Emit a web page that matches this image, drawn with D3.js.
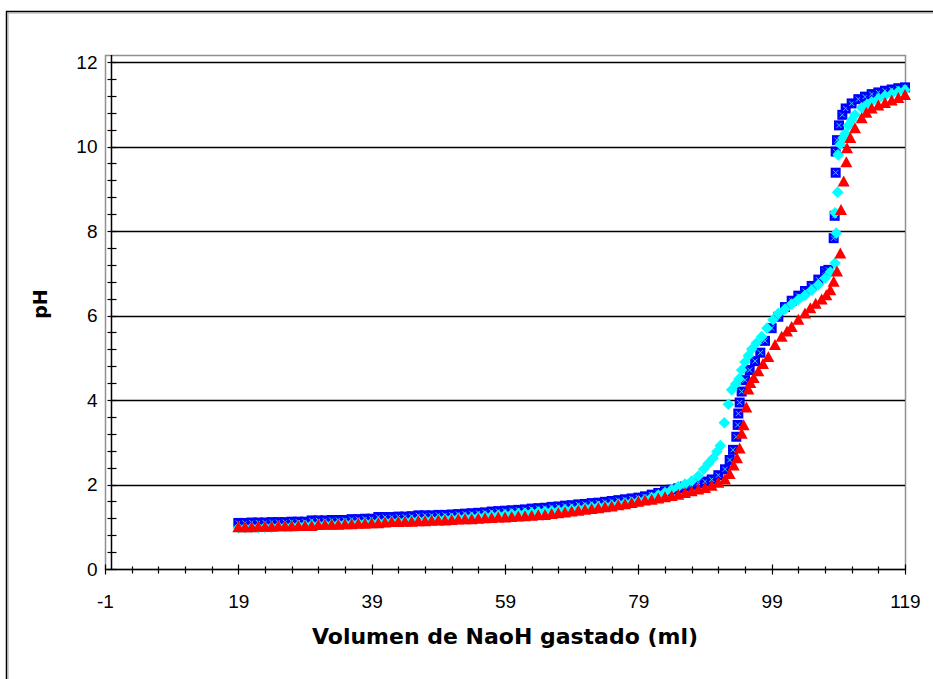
<!DOCTYPE html>
<html>
<head>
<meta charset="utf-8">
<script src="https://cdn.jsdelivr.net/npm/d3@7"></script>
<style>
  html, body { margin: 0; padding: 0; background: #fff; }
  svg { display: block; }
  .tick text { font-family: "Liberation Sans", Arial, sans-serif; font-size: 19px; fill: #000; }
  .title { font-family: "DejaVu Sans", Verdana, sans-serif; font-weight: bold; fill: #000; }
</style>
</head>
<body>
<div id="chart"></div>
<script>
// [volume (ml), pH], one list per run
const blueRun = [
  [19,1.09],[20,1.09],[21,1.10],[22,1.10],[23,1.10],[24,1.11],[25,1.11],[26,1.11],[27,1.12],[28,1.12],
  [29,1.12],[30,1.15],[31,1.15],[32,1.15],[33,1.16],[34,1.16],[35,1.16],[36,1.18],[37,1.18],[38,1.19],
  [39,1.19],[40,1.23],[41,1.23],[42,1.23],[43,1.24],[44,1.24],[45,1.25],[46,1.27],[47,1.27],[48,1.27],
  [49,1.28],[50,1.28],[51,1.29],[52,1.30],[53,1.31],[54,1.32],[55,1.33],[56,1.34],[57,1.36],[58,1.37],
  [59,1.38],[60,1.39],[61,1.40],[62,1.41],[63,1.43],[64,1.44],[65,1.45],[66,1.47],[67,1.48],[68,1.50],
  [69,1.51],[70,1.53],[71,1.54],[72,1.56],[73,1.57],[74,1.59],[75,1.61],[76,1.63],[77,1.65],[78,1.67],
  [79,1.69],[80,1.72],[81,1.76],[82,1.80],[83,1.84],[84,1.88],[85,1.91],[86,1.95],[87,1.99],[88,2.03],
  [89,2.07],[90,2.12],[91,2.22],[92,2.36],[92.7,2.58],[93.2,2.82],[93.7,3.13],[93.9,3.41],[94.0,3.68],
  [94.2,3.94],[94.5,4.20],[95.0,4.47],[95.7,4.71],[96.5,4.92],[97.3,5.12],[98,5.40],[99,5.70],[100,5.97],
  [101,6.20],[102,6.35],[103,6.47],[104,6.58],[105,6.70],[106,6.85],[107,7.05],[107.5,7.08],[108.3,7.83],
  [108.45,8.36],[108.6,9.38],[108.6,9.88],[108.8,10.15],[109.1,10.50],[109.6,10.75],[110.1,10.90],
  [111,11.02],[112,11.12],[113,11.18],[114,11.24],[115,11.28],[116,11.32],[117,11.35],[118,11.38],[119,11.40]
];
const cyanRun = [
  [19,0.97],[20,0.97],[21,0.98],[22,0.98],[23,0.99],[24,0.99],[25,1.00],[26,1.00],[27,1.01],[28,1.02],
  [29,1.03],[30,1.04],[31,1.04],[32,1.05],[33,1.05],[34,1.06],[35,1.07],[36,1.07],[37,1.08],[38,1.09],
  [39,1.09],[40,1.10],[41,1.11],[42,1.12],[43,1.12],[44,1.13],[45,1.14],[46,1.15],[47,1.15],[48,1.16],
  [49,1.17],[50,1.18],[51,1.19],[52,1.20],[53,1.21],[54,1.22],[55,1.23],[56,1.25],[57,1.26],[58,1.27],
  [59,1.28],[60,1.30],[61,1.31],[62,1.32],[63,1.33],[64,1.35],[65,1.36],[66,1.37],[67,1.38],[68,1.40],
  [69,1.41],[70,1.42],[71,1.44],[72,1.46],[73,1.48],[74,1.49],[75,1.51],[76,1.53],[77,1.56],[78,1.58],
  [79,1.61],[80,1.64],[81,1.69],[82,1.75],[83,1.81],[84,1.88],[85,1.95],[86,2.01],[87,2.08],[88,2.20],
  [88.8,2.36],[89.5,2.50],[90.2,2.62],[90.8,2.78],[91.3,2.92],[91.9,3.46],[92.5,3.90],[93.0,4.24],
  [93.6,4.38],[94.1,4.50],[94.5,4.71],[95,4.90],[95.5,5.05],[96,5.20],[96.7,5.35],[97.5,5.50],[98.3,5.70],
  [99.2,5.90],[100,6.05],[101,6.15],[102,6.27],[103,6.38],[104,6.48],[105,6.60],[106,6.73],[107,6.88],
  [107.8,7.03],[108.5,7.24],[108.7,7.95],[108.5,8.43],[108.9,8.92],[109.0,9.80],[109.3,10.05],[109.7,10.20],
  [110,10.30],[110.5,10.50],[111,10.63],[111.5,10.75],[112.5,10.92],[113.3,11.00],[114,11.06],[115,11.13],
  [116,11.20],[117,11.25],[118,11.30],[119,11.34]
];
const redRun = [
  [19,0.99],[20,0.99],[21,0.99],[22,1.00],[23,1.00],[24,1.00],[25,1.01],[26,1.01],[27,1.01],[28,1.02],
  [29,1.02],[30,1.02],[31,1.04],[32,1.05],[33,1.05],[34,1.05],[35,1.06],[36,1.06],[37,1.07],[38,1.07],
  [39,1.08],[40,1.08],[41,1.10],[42,1.11],[43,1.11],[44,1.12],[45,1.12],[46,1.13],[47,1.13],[48,1.14],
  [49,1.15],[50,1.15],[51,1.16],[52,1.17],[53,1.18],[54,1.18],[55,1.19],[56,1.20],[57,1.21],[58,1.22],
  [59,1.22],[60,1.23],[61,1.24],[62,1.25],[63,1.26],[64,1.27],[65,1.28],[66,1.30],[67,1.32],[68,1.34],
  [69,1.36],[70,1.38],[71,1.40],[72,1.42],[73,1.44],[74,1.46],[75,1.48],[76,1.51],[77,1.53],[78,1.56],
  [79,1.59],[80,1.62],[81,1.64],[82,1.67],[83,1.70],[84,1.73],[85,1.76],[86,1.80],[87,1.84],[88,1.88],
  [89,1.92],[90,1.97],[91,2.04],[92,2.12],[92.7,2.25],[93.3,2.45],[93.8,2.62],[94.2,2.85],[94.5,3.20],
  [94.8,3.40],[95.2,3.82],[95.5,4.25],[95.8,4.40],[96.3,4.52],[97,4.68],[97.7,4.85],[98.5,5.02],[99.5,5.30],
  [100.5,5.50],[101.3,5.62],[102,5.73],[103,5.90],[104,6.05],[104.8,6.17],[105.6,6.28],[106.5,6.38],
  [107.2,6.48],[107.8,6.60],[108.3,6.80],[108.8,7.04],[109.3,7.47],[109.4,8.50],[109.8,9.17],[110.2,9.63],
  [110.3,9.96],[110.8,10.20],[111.5,10.43],[112.5,10.67],[113.2,10.80],[114,10.90],[115,10.97],[116,11.03],
  [117,11.09],[118,11.15],[119,11.22]
];

const xMajor = [-1, 19, 39, 59, 79, 99, 119];
const xMinor = [3, 7, 11, 15, 23, 27, 31, 35, 43, 47, 51, 55, 63, 67, 71, 75, 83, 87, 91, 95, 103, 107, 111, 115];
const yMajor = [0, 2, 4, 6, 8, 10, 12];
const yMinor = [0.4, 0.8, 1.2, 1.6, 2.4, 2.8, 3.2, 3.6, 4.4, 4.8, 5.2, 5.6, 6.4, 6.8, 7.2, 7.6,
                8.4, 8.8, 9.2, 9.6, 10.4, 10.8, 11.2, 11.6];
const xTitle = 'Volumen de NaoH gastado (ml)';
const yTitle = 'pH';

const W = 933, H = 679;
const svg = d3.select('#chart').append('svg')
  .attr('width', W).attr('height', H);

// outer chart frame (double line, runs off the right/bottom edge)
svg.append('rect').attr('x', 6.5).attr('y', 11.5).attr('width', 1000).attr('height', 1000)
  .attr('fill', 'none').attr('stroke', '#000').attr('stroke-width', 1.5);
svg.append('rect').attr('x', 8).attr('y', 13).attr('width', 1000).attr('height', 1000)
  .attr('fill', 'none').attr('stroke', '#a0a0a0').attr('stroke-width', 1);

const x = d3.scaleLinear().domain([-1, 119]).range([105, 905]);
const y = d3.scaleLinear().domain([0, 12]).range([569, 62]);
const plotTop = y(12) - 7;
const plain = d => String(d);   // hyphen minus like the original, not U+2212

// plot area border
svg.append('rect')
  .attr('x', x(-1) + 0.5).attr('y', plotTop + 0.5)
  .attr('width', x(119) - x(-1)).attr('height', y(0) - plotTop)
  .attr('fill', 'none').attr('stroke', '#909090').attr('stroke-width', 1.5);

// horizontal gridlines
svg.append('g').selectAll('line')
  .data(yMajor.filter(d => d > 0))
  .join('line')
    .attr('x1', x(0)).attr('x2', x(119))
    .attr('y1', d => Math.round(y(d)) + 0.5).attr('y2', d => Math.round(y(d)) + 0.5)
    .attr('stroke', '#000').attr('stroke-width', 1.3);

// x axis (crosses at pH 0)
const xAxisG = svg.append('g').attr('transform', `translate(0,${Math.round(y(0)) + 0.5})`);
xAxisG.call(d3.axisBottom(x).tickValues(xMajor).tickSize(0).tickPadding(0).tickFormat(plain));
xAxisG.select('.domain').remove();
xAxisG.selectAll('.tick text').attr('y', 25).attr('dy', '0.71em');
xAxisG.append('line').attr('x1', x(-1)).attr('x2', x(119)).attr('stroke', '#000').attr('stroke-width', 1.5);
xAxisG.selectAll('.maj').data(xMajor).join('line').attr('class', 'maj')
  .attr('x1', d => Math.round(x(d)) + 0.5).attr('x2', d => Math.round(x(d)) + 0.5)
  .attr('y1', -5).attr('y2', 5).attr('stroke', '#000').attr('stroke-width', 1.2);
xAxisG.selectAll('.min').data(xMinor).join('line').attr('class', 'min')
  .attr('x1', d => Math.round(x(d)) + 0.5).attr('x2', d => Math.round(x(d)) + 0.5)
  .attr('y1', -3).attr('y2', 4).attr('stroke', '#000').attr('stroke-width', 1.2);

// y axis (crosses at volume 0)
const yAxisG = svg.append('g').attr('transform', `translate(${Math.round(x(0)) - 0.5},0)`);
yAxisG.call(d3.axisLeft(y).tickValues(yMajor).tickSize(0).tickPadding(14).tickFormat(plain));
yAxisG.select('.domain').remove();
yAxisG.append('line').attr('y1', plotTop).attr('y2', y(0)).attr('stroke', '#000').attr('stroke-width', 1.5);
yAxisG.selectAll('.maj').data(yMajor).join('line').attr('class', 'maj')
  .attr('y1', d => Math.round(y(d)) + 0.5).attr('y2', d => Math.round(y(d)) + 0.5)
  .attr('x1', -4).attr('x2', 5).attr('stroke', '#000').attr('stroke-width', 1.2);
yAxisG.selectAll('.min').data(yMinor).join('line').attr('class', 'min')
  .attr('y1', d => Math.round(y(d)) + 0.5).attr('y2', d => Math.round(y(d)) + 0.5)
  .attr('x1', -4).attr('x2', 5).attr('stroke', '#000').attr('stroke-width', 1.2);

// markers
const squarePath = 'M-5,-5H5V5H-5Z';
const diamondPath = 'M0,-5.8L5.8,0L0,5.8L-5.8,0Z';
const trianglePath = 'M0,-6L6,5H-6Z';

const marks = svg.append('g');
const blueG = marks.append('g').selectAll('g').data(blueRun).join('g')
  .attr('transform', d => `translate(${x(d[0])},${y(d[1])})`);
blueG.append('path').attr('d', squarePath).attr('fill', '#0000ff');
blueG.append('path').attr('d', 'M-2.5,-2.5L2.5,2.5M2.5,-2.5L-2.5,2.5')
  .attr('stroke', '#33ccff').attr('stroke-width', 1);

marks.append('g').selectAll('path').data(cyanRun).join('path')
  .attr('transform', d => `translate(${x(d[0])},${y(d[1])})`)
  .attr('d', diamondPath).attr('fill', '#00ffff');

marks.append('g').selectAll('path').data(redRun).join('path')
  .attr('transform', d => `translate(${x(d[0])},${y(d[1])})`)
  .attr('d', trianglePath).attr('fill', '#ff0000');

// axis titles
const xt = svg.append('text').attr('class', 'title')
  .attr('x', 505).attr('y', 644).attr('text-anchor', 'middle')
  .style('font-size', '19px').text(xTitle);
// fit the title to the width seen in the reference
const want = 386;
const got = xt.node().getComputedTextLength();
xt.style('font-size', (19 * want / got).toFixed(2) + 'px');

svg.append('text').attr('class', 'title')
  .attr('transform', 'translate(47,304) rotate(-90)')
  .attr('text-anchor', 'middle')
  .style('font-size', '19px').text(yTitle);
</script>
</body>
</html>
